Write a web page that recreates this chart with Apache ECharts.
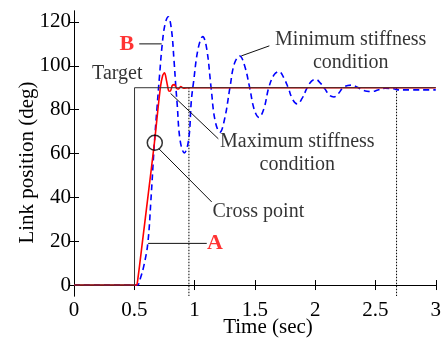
<!DOCTYPE html>
<html>
<head>
<meta charset="utf-8">
<script src="https://cdn.jsdelivr.net/npm/echarts@6/dist/echarts.min.js"></script>
<style>
  html, body { margin: 0; padding: 0; background: #fff; }
  #chart { width: 444px; height: 339px; }
</style>
</head>
<body>
<div id="chart"></div>
<script>
// link position step response, two stiffness conditions

const FONT = 'Liberation Serif, Times New Roman, serif'

const yTicks = [0, 20, 40, 60, 80, 100, 120]

// [time (sec), position (deg)]
const targetData = [[0, 0], [0.502, 0], [0.502, 90], [3, 90]]

const maxStiffness = [
  [0, 0], [0.5, 0], [0.518, 0], [0.53, 3], [0.566, 19], [0.617, 42], [0.667, 65],
  [0.716, 90], [0.735, 95.5], [0.751, 96.8], [0.768, 93], [0.785, 88.6],
  [0.798, 88.4], [0.815, 91], [0.833, 91.4], [0.85, 89.8], [0.865, 89.4],
  [0.885, 90.5], [0.91, 89.8], [0.95, 90], [3, 90],
]

const minStiffness = [
  [0, 0], [0.5, 0], [0.527, 0], [0.55, 3], [0.58, 9], [0.612, 19], [0.637, 38],
  [0.667, 65], [0.69, 82], [0.71, 96], [0.732, 110], [0.755, 119], [0.781, 122.4],
  [0.807, 117], [0.83, 102], [0.845, 90], [0.855, 83], [0.88, 66], [0.915, 60.3],
  [0.95, 66], [0.973, 84], [0.99, 92], [1.03, 108], [1.068, 113.3], [1.10, 108],
  [1.137, 90], [1.17, 75], [1.21, 69.7], [1.25, 76], [1.293, 90], [1.33, 101],
  [1.374, 104.5], [1.415, 100], [1.457, 90], [1.495, 80], [1.533, 76.5],
  [1.575, 80.5], [1.615, 90], [1.66, 96], [1.70, 97.4], [1.74, 94.5], [1.776, 90],
  [1.815, 84.5], [1.852, 82.6], [1.89, 85], [1.934, 90], [1.97, 93], [2.005, 93.8],
  [2.045, 92], [2.08, 89.5], [2.12, 86.5], [2.156, 85.8], [2.195, 87.5], [2.23, 90],
  [2.27, 91], [2.306, 91.2], [2.35, 90.2], [2.39, 89], [2.43, 88.4], [2.475, 88.3],
  [2.52, 89], [2.58, 89.8], [2.65, 89.5], [2.7, 89], [3, 89],
]

// settling time markers
const settleMax = [[0.953, 90], [0.953, -5]]
const settleMin = [[2.675, 90], [2.675, -5]]

// leader lines of the annotations
const leaderB = [[0.541, 110], [0.727, 110]]
const leaderA = [[0.615, 19], [1.101, 19]]
const leaderMin = [[1.387, 104.5], [1.62, 109.1]]
const leaderMax = [[0.801, 87.4], [1.197, 66.7]]
const leaderCross = [[0.705, 62.1], [1.142, 37.9]]
const crossPoint = [[0.67, 64.9]]

// annotation texts, [time, position, text]
const blackNotes = [
  [0.359, 96.5, 'Target'],
  [2.295, 106.8, 'Minimum stiffness\ncondition'],
  [1.852, 59.9, 'Maximum stiffness\ncondition'],
  [1.529, 33.6, 'Cross point'],
]
const redNotes = [
  [0.4385, 109.8, 'B'],
  [1.168, 19, 'A'],
]

const chart = echarts.init(document.getElementById('chart'), null, { renderer: 'canvas' })

const axisLineBlack = { show: true, lineStyle: { color: '#000', width: 1 } }
const tickIn = { show: true, inside: true, length: 5, lineStyle: { color: '#000' } }
const labelStyle = { color: '#000', fontFamily: FONT, fontSize: 21 }

function leader(data) {
  return {
    type: 'line', data, symbol: 'none', silent: true, z: 4,
    lineStyle: { color: '#111', width: 1 },
  }
}

function notes(data, color, weight) {
  return {
    type: 'scatter', data, symbolSize: 0, silent: true, z: 6,
    label: {
      show: true, position: 'inside', formatter: (p) => p.data[2],
      color, fontFamily: FONT, fontSize: weight === 'bold' ? 22 : 20,
      fontWeight: weight, lineHeight: 23, align: 'center', verticalAlign: 'middle',
    },
  }
}

chart.setOption({
  animation: false,
  backgroundColor: '#fff',
  grid: { left: 74, right: 5, top: 11, bottom: 43 },
  xAxis: [
    {
      type: 'value', min: 0, max: 3, interval: 0.5,
      axisLine: axisLineBlack, axisTick: tickIn, splitLine: { show: false },
      axisLabel: { ...labelStyle, margin: 4 },
    },
    {
      type: 'value', position: 'top', min: 0, max: 3, interval: 0.5,
      axisLine: axisLineBlack, axisTick: tickIn, splitLine: { show: false },
      axisLabel: { show: false },
    },
  ],
  yAxis: [
    {
      type: 'value', min: -5, max: 125,
      axisLine: axisLineBlack, splitLine: { show: false },
      axisTick: { ...tickIn, customValues: yTicks },
      axisLabel: { ...labelStyle, margin: 3, customValues: yTicks },
    },
    {
      type: 'value', position: 'right', min: -5, max: 125,
      axisLine: axisLineBlack, splitLine: { show: false },
      axisTick: { ...tickIn, customValues: yTicks },
      axisLabel: { show: false },
    },
  ],
  graphic: [
    {
      type: 'text', x: 27, y: 162.5, rotation: Math.PI / 2,
      style: {
        text: 'Link position (deg)', fill: '#000', font: '21px ' + FONT,
        align: 'center', verticalAlign: 'middle',
      },
    },
    {
      type: 'text', x: 268, y: 327,
      style: {
        text: 'Time (sec)', fill: '#000', font: '21px ' + FONT,
        align: 'center', verticalAlign: 'middle',
      },
    },
  ],
  series: [
    {
      name: 'Maximum stiffness', type: 'line', data: maxStiffness, symbol: 'none',
      smooth: 0.3, z: 3, lineStyle: { color: '#ff0000', width: 1.6 },
    },
    {
      name: 'Target', type: 'line', data: targetData, symbol: 'none', z: 4,
      lineStyle: { color: '#333', width: 1 },
    },
    {
      name: 'Minimum stiffness', type: 'line', data: minStiffness, symbol: 'none',
      smooth: 0.4, z: 2, lineStyle: { color: '#0000ff', width: 1.6, type: [6, 4] },
    },
    {
      type: 'line', data: settleMax, symbol: 'none', silent: true, z: 1,
      lineStyle: { color: '#000', width: 1, type: [1.5, 1.5] },
    },
    {
      type: 'line', data: settleMin, symbol: 'none', silent: true, z: 1,
      lineStyle: { color: '#000', width: 1, type: [1.5, 1.5] },
    },
    leader(leaderB),
    leader(leaderA),
    leader(leaderMin),
    leader(leaderMax),
    leader(leaderCross),
    {
      type: 'scatter', data: crossPoint, symbol: 'circle', symbolSize: 15, z: 5,
      silent: true,
      itemStyle: { color: 'transparent', borderColor: '#000', borderWidth: 1.5 },
    },
    notes(blackNotes, '#000', 'normal'),
    notes(redNotes, '#ff0000', 'bold'),
  ],
})
</script>
</body>
</html>
